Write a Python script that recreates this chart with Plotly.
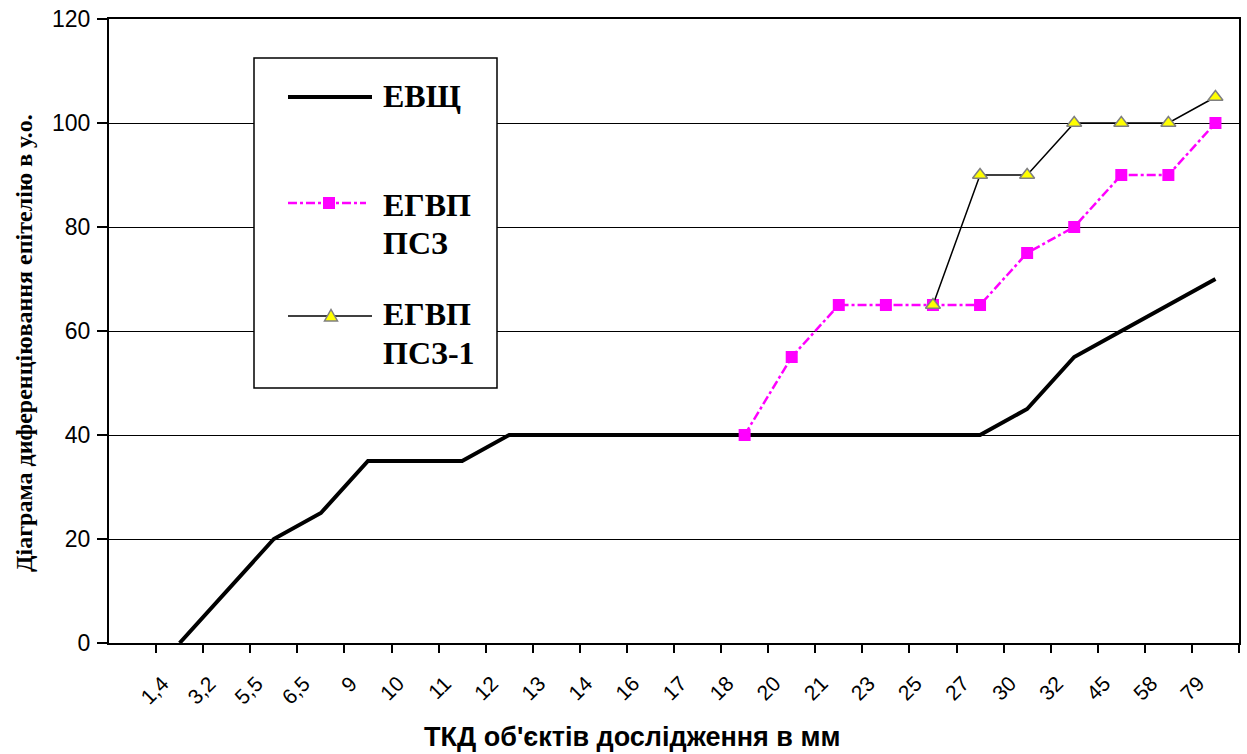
import plotly.graph_objects as go

# ---- data ----
categories = ["1,4", "3,2", "5,5", "6,5", "9", "10", "11", "12", "13", "14", "16", "17",
              "18", "20", "21", "23", "25", "27", "30", "32", "45", "58", "79"]
evshch = [0, 10, 20, 25, 35, 35, 35, 40, 40, 40, 40, 40, 40, 40, 40, 40, 40, 40,
          45, 55, 60, 65, 70]
egvp_psz_cats = ["18", "20", "21", "23", "25", "27", "30", "32", "45", "58", "79"]
egvp_psz = [40, 55, 65, 65, 65, 65, 75, 80, 90, 90, 100]
egvp_psz1_cats = ["25", "27", "30", "32", "45", "58", "79"]
egvp_psz1 = [65, 90, 90, 100, 100, 100, 105]
series_names = ["ЕВЩ", "ЕГВП ПСЗ", "ЕГВП ПСЗ-1"]

SANS = "Liberation Sans"
SERIF = "Liberation Serif"

# plot area in pixels (for placing decorations)
L, R, T, B = 109, 1239, 19, 643
W_, H_ = R - L, B - T


def px(x):
    return (x - L) / W_


def py(y):
    return (B - y) / H_


fig = go.Figure()
fig.add_trace(go.Scatter(x=categories, y=evshch, mode="lines", name=series_names[0],
                         line=dict(color="black", width=4), showlegend=False))
fig.add_trace(go.Scatter(x=egvp_psz_cats, y=egvp_psz, mode="lines+markers", name=series_names[1],
                         line=dict(color="#FF00FF", width=2.5, dash="dashdot"),
                         marker=dict(symbol="square", size=12, color="#FF00FF"),
                         showlegend=False))
fig.add_trace(go.Scatter(x=egvp_psz1_cats, y=egvp_psz1, mode="lines+markers", name=series_names[2],
                         line=dict(color="black", width=1.5),
                         marker=dict(symbol="triangle-up", size=13, color="#FFFF00",
                                     line=dict(color="#808080", width=1.5)),
                         showlegend=False))

fig.update_xaxes(type="category", categoryorder="array", categoryarray=categories,
                 range=[-1.5, len(categories) - 0.5], tickson="boundaries",
                 ticks="outside", ticklen=8, tickwidth=1.5, tickcolor="black",
                 tickangle=-45, ticklabelshift=-17, ticklabelstandoff=18,
                 tickfont=dict(family=SANS, size=21, color="black"), automargin=False,
                 showline=True, linewidth=2, linecolor="black", mirror=True,
                 showgrid=False, zeroline=False)
fig.update_yaxes(range=[0, 120], dtick=20, ticks="outside", ticklen=10, tickwidth=1.5,
                 tickcolor="black", tickfont=dict(family=SANS, size=23, color="black"),
                 ticklabelstandoff=2, automargin=False,
                 showline=True, linewidth=2, linecolor="black", mirror=True,
                 showgrid=True, gridcolor="black", gridwidth=1.2, zeroline=False)

annotations = [
    dict(text="<b>ТКД об'єктів дослідження в мм</b>", x=px(632), y=py(737),
         font=dict(family=SANS, size=27, color="black")),
    dict(text="<b>Діаграма диференціювання епітелію в у.о.</b>", x=px(24), y=py(343),
         textangle=-90, font=dict(family=SERIF, size=24, color="black")),
]
legend_lines = [("ЕВЩ", 96), ("ЕГВП", 205), ("ПСЗ", 243), ("ЕГВП", 314), ("ПСЗ-1", 353)]
for txt, yc in legend_lines:
    annotations.append(dict(text="<b>" + txt + "</b>", x=px(381), y=py(yc), xanchor="left",
                            yanchor="middle", font=dict(family=SERIF, size=32, color="black")))
for a in annotations:
    a.update(xref="paper", yref="paper", showarrow=False)
    a.setdefault("xanchor", "center")
    a.setdefault("yanchor", "middle")

shapes = [
    dict(type="rect", x0=px(254), x1=px(497), y0=py(58), y1=py(388),
         line=dict(color="black", width=1.5), fillcolor="white", layer="above"),
    dict(type="line", x0=px(288), x1=px(372), y0=py(97), y1=py(97),
         line=dict(color="black", width=4), layer="above"),
    dict(type="line", x0=px(288), x1=px(366), y0=py(203), y1=py(203),
         line=dict(color="#FF00FF", width=2.5, dash="dashdot"), layer="above"),
    dict(type="rect", xsizemode="pixel", ysizemode="pixel", xanchor=px(329), yanchor=py(203),
         x0=-6, x1=6, y0=-6, y1=6, line=dict(width=0), fillcolor="#FF00FF", layer="above"),
    dict(type="line", x0=px(288), x1=px(372), y0=py(316), y1=py(316),
         line=dict(color="black", width=1.5), layer="above"),
    dict(type="path", xsizemode="pixel", ysizemode="pixel", xanchor=px(331), yanchor=py(316),
         path="M-6.5,-5 L6.5,-5 L0,6.5 Z", line=dict(color="#808080", width=1.5),
         fillcolor="#FFFF00", layer="above"),
]
for s in shapes:
    s.update(xref="paper", yref="paper")

fig.update_layout(width=1247, height=754, margin=dict(l=L, r=1247 - R, t=T, b=754 - B),
                  paper_bgcolor="white", plot_bgcolor="white",
                  annotations=annotations, shapes=shapes, showlegend=False)

fig.write_html("out.html")
